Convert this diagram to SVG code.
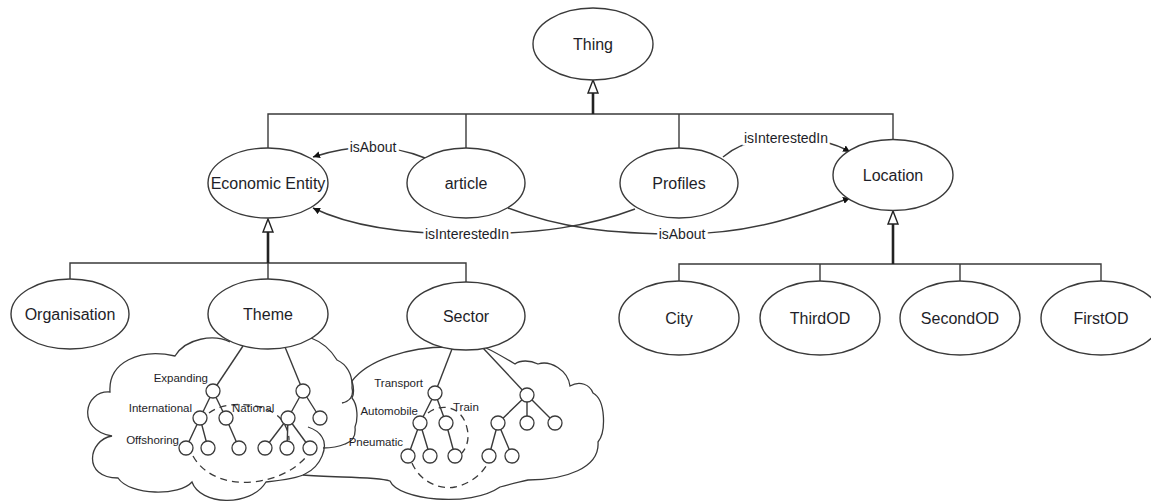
<svg xmlns="http://www.w3.org/2000/svg" width="1151" height="502" viewBox="0 0 1151 502">
<defs>
<style>
.n{fill:#fff;stroke:#3a3a3a;stroke-width:1.4}
.t{font-family:"Liberation Sans",Arial,sans-serif;font-size:16px;fill:#1e1e28;text-anchor:middle}
.e{font-family:"Liberation Sans",Arial,sans-serif;font-size:14px;fill:#1e1e28;text-anchor:middle;paint-order:stroke;stroke:#fff;stroke-width:5px}
.s{font-family:"Liberation Sans",Arial,sans-serif;font-size:11.5px;fill:#1e1e28}
.l{fill:none;stroke:#3a3a3a;stroke-width:1.4}
.k{fill:none;stroke:#222;stroke-width:2.6}
.h{fill:#fff;stroke:#222;stroke-width:1.4}
.c{fill:none;stroke:#3a3a3a;stroke-width:1.3}
.d{fill:none;stroke:#3a3a3a;stroke-width:1.3;stroke-dasharray:7 5}
.sc{fill:#fff;stroke:#3a3a3a;stroke-width:1.3}
</style>
<marker id="a" viewBox="0 0 10 10" refX="10" refY="5" markerWidth="7" markerHeight="7" orient="auto" markerUnits="userSpaceOnUse">
<path d="M0,0 L10,5 L0,10 z" fill="#111"/>
</marker>
</defs>
<rect width="1151" height="502" fill="#fff"/>

<g id="clouds">
<path class="c" d="M230,342 C214,334 186,338 175,356 C140,348 108,362 110,392 C84,390 76,430 112,436 C88,440 82,478 118,478 C130,496 180,496 192,482 C200,505 250,508 266,482 C285,480 298,478 305,474 C322,466 328,446 322,437 C319,432 314,429 308,427 M342,403 C350,401 354,396 352,388 C353,374 346,364 337,360 C331,350 322,342 311,338"/>
<path class="c" d="M448,347 C408,347 368,360 352,381 C354,388 354,394 352,398 C358,405 358,420 355,427 C356,436 352,442 345,444 C338,447 330,448 323,448 M303,475 C330,478 375,476 390,481 C398,500 470,508 500,487 C510,484 520,482 528,480 C565,480 600,468 598,442 C606,432 606,400 593,393 C590,385 580,380 570,386 C568,370 550,360 538,364 C530,360 520,360 515,364 C505,358 495,352 486,348"/>
</g>

<g id="connectors">
<!-- Thing hierarchy -->
<polyline class="l" points="268,148 268,114 893,114 893,139"/>
<line class="l" x1="466" y1="114" x2="466" y2="148"/>
<line class="l" x1="679" y1="114" x2="679" y2="148"/>
<line class="k" x1="593" y1="114" x2="593" y2="93"/>
<polygon class="h" points="593,80 588,93 598,93"/>
<!-- Economic Entity hierarchy -->
<polyline class="l" points="70,279 70,263 466,263 466,282"/>
<line class="l" x1="268" y1="263" x2="268" y2="279"/>
<line class="k" x1="268" y1="263" x2="268" y2="232"/>
<polygon class="h" points="268,219 263,232 273,232"/>
<!-- Location hierarchy -->
<polyline class="l" points="679,281 679,264 1101,264 1101,281"/>
<line class="l" x1="820" y1="264" x2="820" y2="281"/>
<line class="l" x1="960" y1="264" x2="960" y2="281"/>
<line class="k" x1="893" y1="264" x2="893" y2="224"/>
<polygon class="h" points="893,211 888,224 898,224"/>
<!-- object properties -->
<path class="l" d="M425,158 Q373,137 313,157" marker-end="url(#a)"/>
<path class="l" d="M635,209 C590,226 540,234 467,234 C400,234 350,226 313,208" marker-end="url(#a)"/>
<path class="l" d="M508,208 C560,228 610,234 682,234 C750,234 800,216 850,198" marker-end="url(#a)"/>
<path class="l" d="M723,157 C738,144 760,138 786,138 C815,138 835,143 850,152" marker-end="url(#a)"/>
<text class="e" x="373" y="152">isAbout</text>
<text class="e" x="467" y="239">isInterestedIn</text>
<text class="e" x="682" y="239">isAbout</text>
<text class="e" x="786" y="143">isInterestedIn</text>
<!-- Theme tree edges -->
<line class="l" x1="243" y1="346" x2="213" y2="391"/>
<line class="l" x1="285" y1="347" x2="303" y2="391"/>
<polyline class="l" points="200,418 213,391 226,418"/>
<polyline class="l" points="186,448 200,418 208,448"/>
<line class="l" x1="226" y1="418" x2="239" y2="448"/>
<polyline class="l" points="288,418 303,391 320,418"/>
<line class="l" x1="288" y1="418" x2="265" y2="448"/>
<line class="l" x1="288" y1="418" x2="287" y2="448"/>
<line class="l" x1="288" y1="418" x2="310" y2="448"/>
<!-- Sector tree edges -->
<line class="l" x1="452" y1="349" x2="435" y2="393"/>
<line class="l" x1="483" y1="348" x2="527" y2="395"/>
<polyline class="l" points="420,423 435,393 446,423"/>
<polyline class="l" points="408,456 420,423 430,456"/>
<line class="l" x1="446" y1="423" x2="455" y2="456"/>
<polyline class="l" points="498,423 527,395 555,423"/>
<line class="l" x1="527" y1="395" x2="527" y2="423"/>
<polyline class="l" points="489,456 498,423 512,456"/>
<!-- dashed groupings -->
<path class="d" d="M209,413 C225,400 265,402 280,418 C286,425 289,433 289,440"/>
<path class="d" d="M193,456 C205,478 232,484 252,482 C275,480 295,470 306,457"/>
<path class="d" d="M428,413 C440,403 462,405 467,428 C470,440 466,448 462,453"/>
<path class="d" d="M412,463 C420,482 440,490 455,487 C470,484 482,474 488,463"/>
</g>

<g id="tree-nodes">
<circle class="sc" cx="213" cy="391" r="7"/>
<circle class="sc" cx="200" cy="418" r="7"/>
<circle class="sc" cx="226" cy="418" r="7"/>
<circle class="sc" cx="186" cy="448" r="7"/>
<circle class="sc" cx="208" cy="448" r="7"/>
<circle class="sc" cx="239" cy="448" r="7"/>
<circle class="sc" cx="303" cy="391" r="7"/>
<circle class="sc" cx="288" cy="418" r="7"/>
<circle class="sc" cx="320" cy="418" r="7"/>
<circle class="sc" cx="265" cy="448" r="7"/>
<circle class="sc" cx="287" cy="448" r="7"/>
<circle class="sc" cx="310" cy="448" r="7"/>
<circle class="sc" cx="435" cy="393" r="7"/>
<circle class="sc" cx="420" cy="423" r="7"/>
<circle class="sc" cx="446" cy="423" r="7"/>
<circle class="sc" cx="408" cy="456" r="7"/>
<circle class="sc" cx="430" cy="456" r="7"/>
<circle class="sc" cx="455" cy="456" r="7"/>
<circle class="sc" cx="527" cy="395" r="7"/>
<circle class="sc" cx="498" cy="423" r="7"/>
<circle class="sc" cx="527" cy="423" r="7"/>
<circle class="sc" cx="555" cy="423" r="7"/>
<circle class="sc" cx="489" cy="456" r="7"/>
<circle class="sc" cx="512" cy="456" r="7"/>
<text class="s" x="208" y="382" text-anchor="end">Expanding</text>
<text class="s" x="192" y="412" text-anchor="end">International</text>
<text class="s" x="232" y="412">National</text>
<text class="s" x="179" y="444" text-anchor="end">Offshoring</text>
<text class="s" x="423" y="387" text-anchor="end">Transport</text>
<text class="s" x="418" y="415" text-anchor="end">Automobile</text>
<text class="s" x="403" y="446" text-anchor="end">Pneumatic</text>
<text class="s" x="453" y="411">Train</text>
</g>

<g id="thing"><ellipse class="n" cx="593" cy="44" rx="60" ry="36"/><text class="t" x="593" y="50">Thing</text></g>
<g id="economic-entity"><ellipse class="n" cx="268" cy="183" rx="60" ry="35"/><text class="t" x="268" y="189">Economic Entity</text></g>
<g id="article"><ellipse class="n" cx="466" cy="183" rx="59" ry="35"/><text class="t" x="466" y="189">article</text></g>
<g id="profiles"><ellipse class="n" cx="679" cy="183" rx="59" ry="35"/><text class="t" x="679" y="189">Profiles</text></g>
<g id="location"><ellipse class="n" cx="893" cy="175" rx="60" ry="35.5"/><text class="t" x="893" y="181">Location</text></g>
<g id="organisation"><ellipse class="n" cx="70" cy="314" rx="59" ry="35"/><text class="t" x="70" y="320">Organisation</text></g>
<g id="theme"><ellipse class="n" cx="268" cy="314" rx="60" ry="35"/><text class="t" x="268" y="320">Theme</text></g>
<g id="sector"><ellipse class="n" cx="466" cy="316" rx="59" ry="34"/><text class="t" x="466" y="322">Sector</text></g>
<g id="city"><ellipse class="n" cx="679" cy="318" rx="60" ry="37"/><text class="t" x="679" y="324">City</text></g>
<g id="thirdod"><ellipse class="n" cx="820" cy="318" rx="60" ry="37"/><text class="t" x="820" y="324">ThirdOD</text></g>
<g id="secondod"><ellipse class="n" cx="960" cy="318" rx="60" ry="37"/><text class="t" x="960" y="324">SecondOD</text></g>
<g id="firstod"><ellipse class="n" cx="1101" cy="318" rx="60" ry="37"/><text class="t" x="1101" y="324">FirstOD</text></g>
</svg>
